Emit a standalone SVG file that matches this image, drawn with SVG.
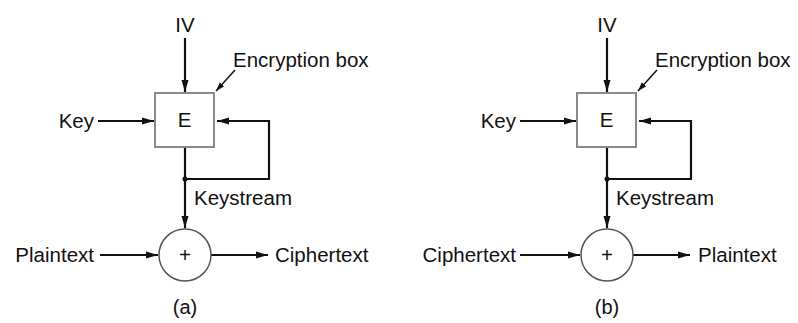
<svg xmlns="http://www.w3.org/2000/svg" width="798" height="323" viewBox="0 0 798 323">
<style>
text{font-family:"Liberation Sans",Arial,sans-serif;font-size:20.5px;fill:#111}
.cap{font-size:20px}
.ln{stroke:#111;stroke-width:2.2;fill:none}
.lead{stroke:#111;stroke-width:1.5;fill:none}
.box{fill:#fff;stroke:#8a8a8a;stroke-width:2}
.xor{fill:#fff;stroke:#555;stroke-width:1.5}
</style>
<defs>
<marker id="ah" markerUnits="userSpaceOnUse" markerWidth="12" markerHeight="8" refX="12" refY="4" orient="auto">
<path d="M0,0.5 L12,4 L0,7.5 z" fill="#111"/>
</marker>
<marker id="ahs" markerUnits="userSpaceOnUse" markerWidth="9" markerHeight="7" refX="9" refY="3.5" orient="auto">
<path d="M0,0.5 L9,3.5 L0,6.5 z" fill="#111"/>
</marker>
</defs>

<!-- Panel (a) -->
<g id="panel-a">
<g id="connectors-a">
<line class="ln" x1="185" y1="38" x2="185" y2="92" marker-end="url(#ah)"/>
<line class="ln" x1="98" y1="121" x2="154" y2="121" marker-end="url(#ah)"/>
<polyline class="ln" points="185,179 269,179 269,121 217,121" marker-end="url(#ah)"/>
<line class="ln" x1="185" y1="148" x2="185" y2="228" marker-end="url(#ah)"/>
<line class="ln" x1="100" y1="255" x2="158" y2="255" marker-end="url(#ah)"/>
<line class="ln" x1="211" y1="255" x2="268" y2="255" marker-end="url(#ah)"/>
<line class="lead" x1="235" y1="70" x2="216" y2="91" marker-end="url(#ahs)"/>
<circle cx="185" cy="179" r="2.5" fill="#111"/>
</g>
<g id="iv-a"><text x="185" y="32" text-anchor="middle">IV</text></g>
<g id="enclabel-a"><text x="233" y="67">Encryption box</text></g>
<g id="key-a"><text x="94" y="128" text-anchor="end">Key</text></g>
<g id="box-a"><rect class="box" x="155" y="93" width="59" height="54"/><text x="184.5" y="127" text-anchor="middle">E</text></g>
<g id="keystream-a"><text x="194" y="205">Keystream</text></g>
<g id="xor-a"><circle class="xor" cx="185" cy="255" r="26"/><text x="185" y="262" text-anchor="middle">+</text></g>
<g id="in-a"><text x="94" y="262" text-anchor="end">Plaintext</text></g>
<g id="out-a"><text x="275" y="262">Ciphertext</text></g>
<g id="caption-a"><text class="cap" x="185" y="314" text-anchor="middle">(a)</text></g>
</g>

<!-- Panel (b) -->
<g id="panel-b">
<g id="connectors-b">
<line class="ln" x1="607" y1="38" x2="607" y2="92" marker-end="url(#ah)"/>
<line class="ln" x1="520" y1="121" x2="576" y2="121" marker-end="url(#ah)"/>
<polyline class="ln" points="607,179 691,179 691,121 639,121" marker-end="url(#ah)"/>
<line class="ln" x1="607" y1="148" x2="607" y2="228" marker-end="url(#ah)"/>
<line class="ln" x1="520" y1="255" x2="580" y2="255" marker-end="url(#ah)"/>
<line class="ln" x1="633" y1="255" x2="690" y2="255" marker-end="url(#ah)"/>
<line class="lead" x1="657" y1="70" x2="638" y2="91" marker-end="url(#ahs)"/>
<circle cx="607" cy="179" r="2.5" fill="#111"/>
</g>
<g id="iv-b"><text x="607" y="32" text-anchor="middle">IV</text></g>
<g id="enclabel-b"><text x="655" y="67">Encryption box</text></g>
<g id="key-b"><text x="516" y="128" text-anchor="end">Key</text></g>
<g id="box-b"><rect class="box" x="577" y="93" width="59" height="54"/><text x="606.5" y="127" text-anchor="middle">E</text></g>
<g id="keystream-b"><text x="616" y="205">Keystream</text></g>
<g id="xor-b"><circle class="xor" cx="607" cy="255" r="26"/><text x="607" y="262" text-anchor="middle">+</text></g>
<g id="in-b"><text x="516" y="262" text-anchor="end">Ciphertext</text></g>
<g id="out-b"><text x="698" y="262">Plaintext</text></g>
<g id="caption-b"><text class="cap" x="607" y="314" text-anchor="middle">(b)</text></g>
</g>
</svg>
